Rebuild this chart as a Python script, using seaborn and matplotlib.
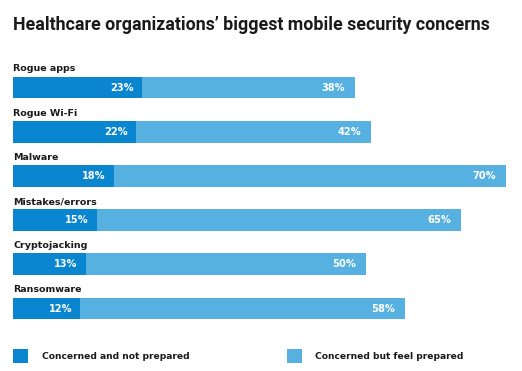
import matplotlib
matplotlib.use("Agg")
import matplotlib.pyplot as plt
import seaborn as sns
import pandas as pd
from matplotlib.patches import Rectangle

categories = ["Rogue apps", "Rogue Wi-Fi", "Malware", "Mistakes/errors", "Cryptojacking", "Ransomware"]
not_prepared = [23, 22, 18, 15, 13, 12]
feel_prepared = [38, 42, 70, 65, 50, 58]
series_names = ["Concerned and not prepared", "Concerned but feel prepared"]
title = "Healthcare organizations\u2019 biggest mobile security concerns"

DARK = "#0a85d0"
LIGHT = "#56b1e1"
TXT = "#1a1a1a"

sns.set_theme(style="white")
plt.rcParams["font.family"] = ["DejaVu Sans"]

df = pd.DataFrame({"cat": categories, "np": not_prepared, "fp": feel_prepared})
df["total"] = df["np"] + df["fp"]

fig = plt.figure(figsize=(5.22, 3.71), dpi=100)
W, H = 522, 371
ax = fig.add_axes([13 / W, 1 - 330.6 / H, 504 / W, 265.2 / H])

sns.barplot(data=df, x="total", y="cat", orient="h", color=LIGHT, width=0.49,
            saturation=1, ax=ax, order=categories, linewidth=0, edgecolor="none")
sns.barplot(data=df, x="np", y="cat", orient="h", color=DARK, width=0.49,
            saturation=1, ax=ax, order=categories, linewidth=0, edgecolor="none")

ax.set_xlim(0, 90)
ax.set_ylim(5.5, -0.5)
ax.axis("off")

lab_font = dict(family=["DejaVu Sans"], fontweight="bold")
for i, row in df.iterrows():
    ax.text(0, i - 0.42, row["cat"], ha="left", va="center", fontsize=6.8,
            color=TXT, **lab_font)
    ax.text(row["np"] - 1.45, i, f"{row['np']}%", ha="right", va="center",
            fontsize=7.1, color="white", **lab_font)
    ax.text(row["total"] - 1.75, i, f"{row['fp']}%", ha="right", va="center",
            fontsize=7.1, color="white", **lab_font)

fig.text(13 / W, 1 - 25 / H, title, ha="left", va="center", fontsize=12.75,
         fontweight="bold", color=TXT, family=["Roboto", "DejaVu Sans"])

# legend
for x0, txt_x, name, col in [(13, 42, series_names[0], DARK), (287, 315, series_names[1], LIGHT)]:
    fig.patches.append(Rectangle((x0 / W, 1 - 363 / H), 15 / W, 14 / H,
                                 transform=fig.transFigure, color=col, linewidth=0))
    fig.text(txt_x / W, 1 - 356.5 / H, name, ha="left", va="center", fontsize=6.6,
             color=TXT, **lab_font)

fig.savefig("out.png", dpi=100)
